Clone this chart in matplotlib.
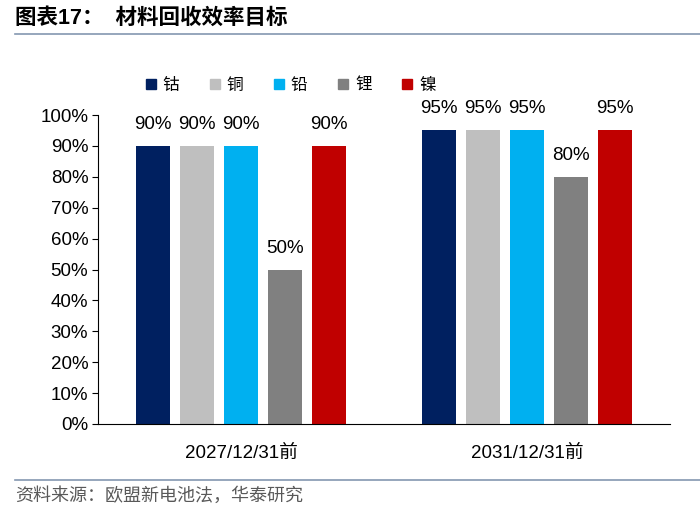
import numpy as np
import matplotlib.pyplot as plt
from matplotlib.lines import Line2D

plt.rcParams['font.family'] = ['Liberation Sans', 'Noto Sans CJK SC']

# data
groups = ['2027/12/31前', '2031/12/31前']
metals = ['钴', '铜', '铅', '锂', '镍']
values = {
    '钴': [90, 95],
    '铜': [90, 95],
    '铅': [90, 95],
    '锂': [50, 80],
    '镍': [90, 95],
}
colors = ['#002060', '#BFBFBF', '#00B0F0', '#808080', '#C00000']

fig = plt.figure(figsize=(7, 5.14), dpi=100)
ax = fig.add_axes([98 / 700, 1 - 424 / 514, 572 / 700, 309 / 514])

x = np.arange(len(groups))
width = 0.119
step = 0.154
for i, m in enumerate(metals):
    pos = x + (i - 2) * step
    bars = ax.bar(pos, values[m], width, color=colors[i], label=m)
    for b, v in zip(bars, values[m]):
        ax.text(b.get_x() + b.get_width() / 2, v + 4.2, f'{v}%',
                ha='center', va='bottom', fontsize=13.5)

ax.set_xlim(-0.5, 1.5)
ax.set_ylim(0, 100)
ax.set_yticks(np.arange(0, 101, 10))
ax.set_yticklabels([f'{t}%' for t in range(0, 101, 10)], fontsize=13.5)
ax.set_xticks(x)
ax.set_xticklabels(groups, fontsize=13.5)
ax.tick_params(axis='x', length=0, pad=15)
ax.tick_params(axis='y', length=4, width=0.8, pad=3)
for s in ['top', 'right']:
    ax.spines[s].set_visible(False)
ax.spines['left'].set_color('black')
ax.spines['bottom'].set_color('black')

handles = [Line2D([], [], marker='s', ls='', color=c, markersize=7) for c in colors]
fig.legend(handles, metals, loc='center', bbox_to_anchor=(290 / 700, 1 - 85 / 514),
           ncol=5, frameon=False, fontsize=12, handlelength=0.8, handletextpad=0.3,
           columnspacing=1.75)

# header and footer
fig.text(15 / 700, 1 - 18 / 514, '图表17：  材料回收效率目标', fontsize=15.5, fontweight='bold',
         va='center', ha='left')
fig.add_artist(Line2D([15 / 700, 1], [1 - 34 / 514] * 2, color='#8497B0', lw=1.2))
fig.add_artist(Line2D([15 / 700, 1], [1 - 480 / 514] * 2, color='#8497B0', lw=1.2))
fig.text(15 / 700, 1 - 496 / 514, '资料来源：欧盟新电池法，华泰研究', fontsize=13,
         color='#595959', va='center', ha='left')

fig.savefig('out.png', dpi=100)
